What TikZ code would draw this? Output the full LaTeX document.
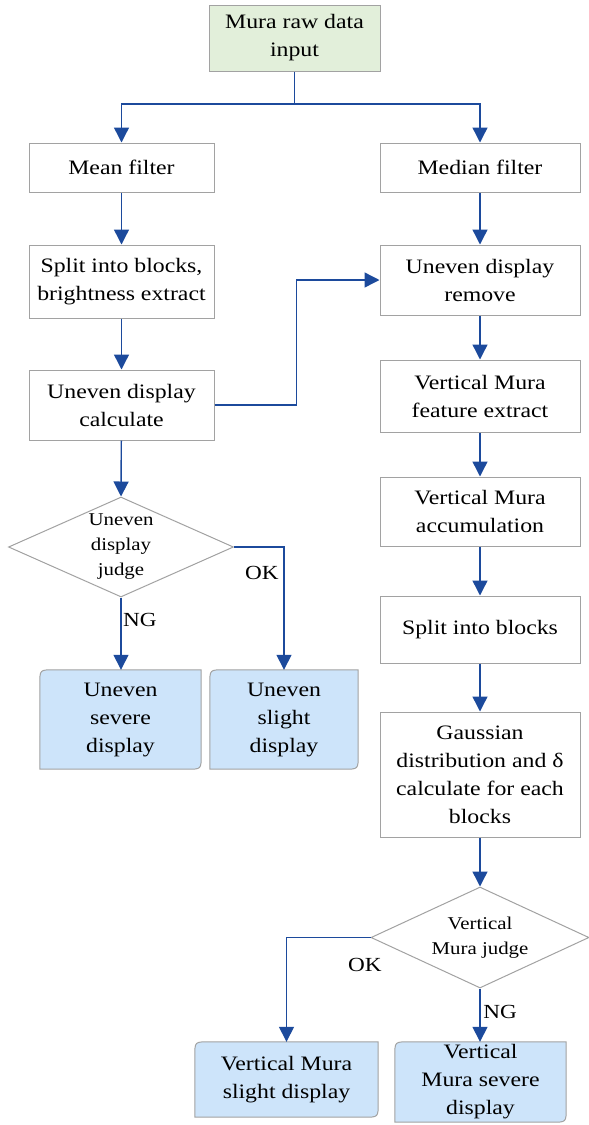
\documentclass[tikz,border=0pt]{standalone}
\usepackage{fontspec}
\setmainfont{Liberation Serif}[FakeStretch=1.16]
\usetikzlibrary{shapes.geometric,arrows.meta}
\pgfdeclarelayer{background}
\pgfsetlayers{background,main}
\definecolor{flowblue}{RGB}{28,74,156}
\definecolor{edgegray}{RGB}{162,162,162}
\definecolor{startgreen}{RGB}{226,239,218}
\definecolor{endblue}{RGB}{205,228,250}
% result box: top-left and bottom-right corners rounded
\newcommand\roundcorners[1]{%
  \draw[endbox] ([yshift=-14pt]#1.north west) .. controls (#1.north west) .. ([xshift=14pt]#1.north west)
    -- (#1.north east) -- ([yshift=14pt]#1.south east) .. controls (#1.south east) .. ([xshift=-14pt]#1.south east)
    -- (#1.south west) -- cycle;}
\begin{document}
\begin{tikzpicture}[x=1pt,y=-1pt,
  txt/.style={font=\fontsize{20.5}{28}\selectfont, align=center, inner sep=0pt},
  stepbox/.style={txt, draw=edgegray, line width=1pt, fill=white},
  startbox/.style={stepbox, fill=startgreen},
  endtext/.style={txt},
  endbox/.style={draw=edgegray, line width=1pt, fill=endblue},
  judge/.style={diamond, draw=edgegray, line width=1pt, fill=white, inner sep=0pt},
  judgetext/.style={font=\fontsize{18}{25}\selectfont, align=center},
  flow/.style={draw=flowblue, line width=1.4pt},
  arr/.style={flow, -{Triangle[width=15pt,length=15pt]}},
  tag/.style={font=\fontsize{20}{22}\selectfont, inner sep=0pt}
]
\useasboundingbox (0,0) rectangle (589,1125);

% start
\node[startbox, minimum width=171, minimum height=66] (input) at (294.5,38) {Mura raw data\\input};

% left column
\node[stepbox, minimum width=185, minimum height=49] (mean) at (121.5,167.5) {Mean filter};
\node[stepbox, minimum width=185, minimum height=73] (blocksA) at (121.5,281.5) {Split into blocks,\\brightness extract};
\node[stepbox, minimum width=185, minimum height=70] (calc) at (121.5,405) {Uneven display\\calculate};
\node[judge, minimum width=225, minimum height=100] (judgeA) at (121,547) {};
\node[judgetext] (judgeAtext) at (121,547) {Uneven\\display\\judge};
\node[endtext, minimum width=161, minimum height=99] (severeA) at (120.5,719.5) {Uneven\\severe\\display};
\node[endtext, minimum width=148, minimum height=99] (slightA) at (284,719.5) {Uneven\\slight\\display};

% right column
\node[stepbox, minimum width=200, minimum height=49] (median) at (480,167.5) {Median filter};
\node[stepbox, minimum width=200, minimum height=70] (remove) at (480,280) {Uneven display\\remove};
\node[stepbox, minimum width=200, minimum height=72] (feature) at (480,396) {Vertical Mura\\feature extract};
\node[stepbox, minimum width=200, minimum height=69] (accum) at (480,511.5) {Vertical Mura\\accumulation};
\node[stepbox, minimum width=200, minimum height=67] (blocksB) at (480,629.5) {Split into blocks};
\node[stepbox, minimum width=200, minimum height=125] (gauss) at (480,774.5) {Gaussian\\distribution and δ\\calculate for each\\blocks};
\node[judge, minimum width=218, minimum height=101] (judgeB) at (480,937.5) {};
\node[judgetext] (judgeBtext) at (480,937.5) {Vertical\\Mura judge};
\node[endtext, minimum width=183, minimum height=75] (slightB) at (286.5,1079.5) {Vertical Mura\\slight display};
\node[endtext, minimum width=171, minimum height=80] (severeB) at (480.5,1082) {Vertical\\Mura severe\\display};

\begin{pgfonlayer}{background}
  \roundcorners{severeA}
  \roundcorners{slightA}
  \roundcorners{slightB}
  \roundcorners{severeB}
\end{pgfonlayer}

% split of the input into the two filters
\coordinate (fork) at (294.5,104);
\draw[flow] (input.south) -- (fork);
\draw[arr] (fork) -| (mean.north);
\draw[arr] (fork) -| (median.north);

% left chain
\draw[arr] (mean) -- (blocksA);
\draw[arr] (blocksA) -- (calc);
\draw[arr] (calc) -- (judgeA.north);
\draw[arr] (calc.east) -- ++(82,0) |- (remove.west);
\draw[arr] (judgeA.south) -- (judgeA.south |- severeA.north);
\draw[arr] (judgeA.east) -| (slightA.north);
\node[tag] (ngA) at (140,620) {NG};
\node[tag] (okA) at (262,573) {OK};

% right chain
\draw[arr] (median) -- (remove);
\draw[arr] (remove) -- (feature);
\draw[arr] (feature) -- (accum);
\draw[arr] (accum) -- (blocksB);
\draw[arr] (blocksB) -- (gauss);
\draw[arr] (gauss) -- (judgeB.north);
\draw[arr] (judgeB.west) -| (slightB.north);
\draw[arr] (judgeB.south) -- (judgeB.south |- severeB.north);
\node[tag] (okB) at (365,965) {OK};
\node[tag] (ngB) at (500,1012) {NG};
\end{tikzpicture}
\end{document}
